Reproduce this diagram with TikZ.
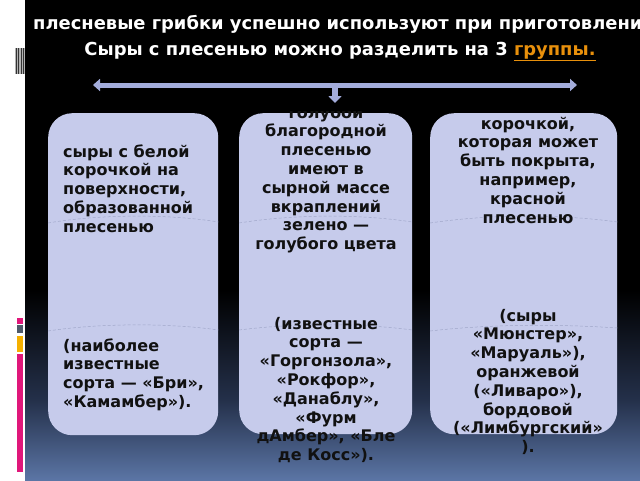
\documentclass[tikz,border=0pt]{standalone}
\usepackage{fontspec}
\setmainfont{DejaVu Sans}
\usetikzlibrary{arrows.meta}
\definecolor{boxfill}{HTML}{C6CBEB}
\definecolor{arrowcol}{HTML}{A3ACDB}
\definecolor{grporange}{HTML}{E8900C}
\definecolor{bgbottom}{HTML}{5B75A5}
\definecolor{bgmid}{HTML}{24304A}
\definecolor{dashcol}{HTML}{A0A7C9}
\definecolor{barpink}{HTML}{E0177A}
\definecolor{bargrey}{HTML}{4E5A6A}
\definecolor{barorange}{HTML}{F5B000}
\definecolor{txtdark}{HTML}{111111}
\begin{document}
\begin{tikzpicture}[x=1pt,y=-1pt,
  boxbody/.style={fill=boxfill, draw=none, rounded corners=24pt, inner sep=0pt, anchor=north west},
  boxtext/.style={font=\fontsize{16}{18.8}\selectfont\bfseries, text=txtdark, inner sep=0pt},
  titletext/.style={font=\fontsize{17.9}{21}\selectfont\bfseries, text=white, inner sep=0pt},
  arrowbar/.style={draw=arrowcol, line width=5pt},
  sepline/.style={draw=dashcol, line width=0.5pt, dash pattern=on 3pt off 2pt}
]
\useasboundingbox (0,0) rectangle (640,480);
% background
\fill[black] (25,0) rectangle (640,480);
\shade[top color=black, bottom color=bgmid] (25,290) rectangle (640,400);
\shade[top color=bgmid, bottom color=bgbottom] (25,400) rectangle (640,480);
\fill[white] (0,0) rectangle (25,480);
% left decorations
\fill[gray!60] (15,48) rectangle (25,74);
\foreach \xx in {15.5,18,20.5,23} {\fill[black!80] (\xx,48) rectangle ++(1.2,26);}
\fill[barpink] (17,318) rectangle (23,323.5);
\fill[bargrey] (17,324.5) rectangle (23,333);
\fill[barorange] (17,336) rectangle (23,352);
\fill[barpink] (17,353.5) rectangle (23,472);
% title
\node[titletext, anchor=base west] (l1) at (33,29) {плесневые грибки успешно используют при приготовлении};
\node[titletext, anchor=base] (l2) at (340,55) {Сыры с плесенью можно разделить на 3 \textcolor{grporange}{\underline{группы.}}};
% arrows
\coordinate (al) at (93,85);
\coordinate (ar) at (577,85);
\coordinate (ad) at (335,87);
\coordinate (adt) at (335,103);
\draw[arrowbar, {Triangle[width=12pt,length=7pt]}-{Triangle[width=12pt,length=7pt]}] (al) -- (ar);
\draw[arrowbar, line width=6pt, -{Triangle[width=13pt,length=7pt]}] (ad) -- (adt);
% boxes
\node[boxbody, minimum width=170pt, minimum height=322pt] (b1) at (48,113) {};
\node[boxbody, minimum width=173pt, minimum height=321pt] (b2) at (239,113) {};
\node[boxbody, minimum width=187pt, minimum height=321pt] (b3) at (430,113) {};
% faint separators
\draw[sepline] (b1.west |- 0,223) .. controls (100,214) and (170,214) .. (b1.east |- 0,222);
\draw[sepline] (b1.west |- 0,331) .. controls (100,323) and (170,323) .. (b1.east |- 0,330);
\draw[sepline] (b2.west |- 0,223) .. controls (295,214) and (360,214) .. (b2.east |- 0,222);
\draw[sepline] (b2.west |- 0,330) .. controls (295,323) and (360,323) .. (b2.east |- 0,330);
\draw[sepline] (b3.west |- 0,223) .. controls (490,214) and (560,214) .. (b3.east |- 0,222);
\draw[sepline] (b3.west |- 0,331) .. controls (490,324) and (560,324) .. (b3.east |- 0,328);
% box texts (anchor = baseline of last line)
\node[boxtext, align=left, anchor=base west] (t1a) at (63,232.2) {сыры с белой\\корочкой на\\поверхности,\\образованной\\плесенью};
\node[boxtext, align=left, anchor=base west] (t1b) at (63,407.4) {(наиболее\\известные\\сорта — «Бри»,\\«Камамбер»).};
\begin{scope}
\clip (0,111) rectangle (640,480);
\node[boxtext, align=center, anchor=base] (t2a) at (326,249.6) {голубой\\благородной\\плесенью\\имеют в\\сырной массе\\вкраплений\\зелено —\\голубого цвета};
\end{scope}
\node[boxtext, align=center, anchor=base] (t2b) at (326,460.6) {(известные\\сорта —\\«Горгонзола»,\\«Рокфор»,\\«Данаблу»,\\«Фурм\\дАмбер», «Бле\\де Косс»).};
\node[boxtext, align=center, anchor=base] (t3a) at (528,223) {корочкой,\\которая может\\быть покрыта,\\например,\\красной\\плесенью};
\node[boxtext, align=center, anchor=base] (t3b) at (528,452.6) {(сыры\\«Мюнстер»,\\«Маруаль»),\\оранжевой\\(«Ливаро»),\\бордовой\\(«Лимбургский»\\).};
\end{tikzpicture}
\end{document}
